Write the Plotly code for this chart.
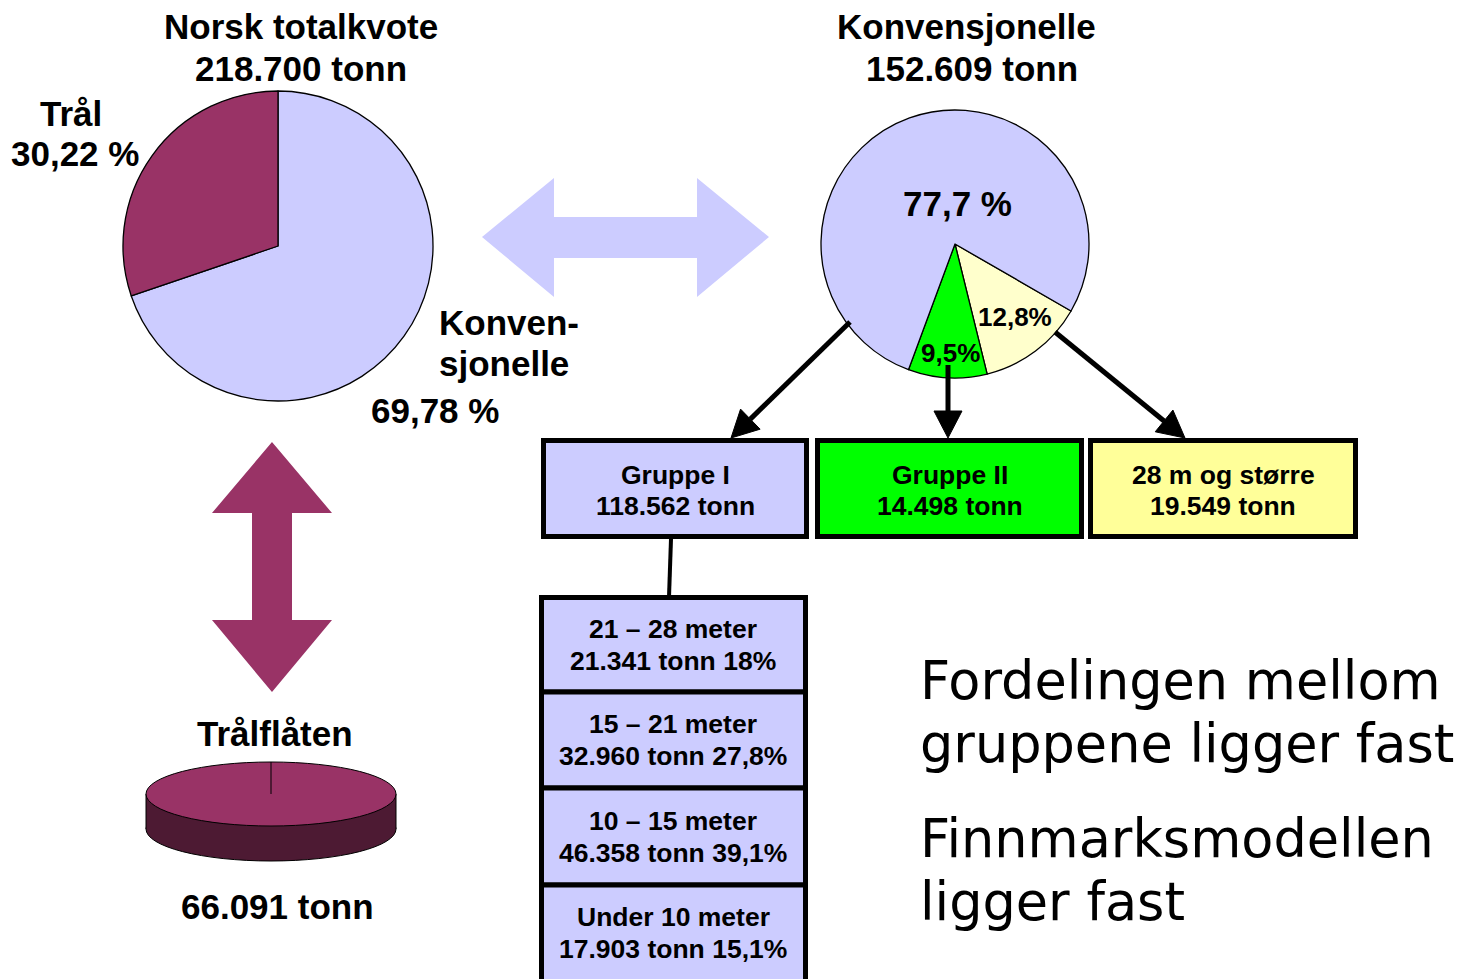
import numpy as np
import plotly.graph_objects as go

W, H = 1467, 979

# ---------------- data ----------------
total_title = "Norsk totalkvote"
total_tonn = 218700

split_labels = ["Konvensjonelle", "Trål"]
split_values = [152609, 66091]
split_pct_text = ["69,78 %", "30,22 %"]
split_colors = ["#CCCCFF", "#993366"]

conv_title = "Konvensjonelle"
conv_labels = ["28 m og større", "Gruppe II", "Gruppe I"]
conv_values = [19549, 14498, 118562]
conv_pct_text = ["12,8%", "9,5%", "77,7 %"]
conv_pie_colors = ["#FFFFCC", "#00FF00", "#CCCCFF"]
conv_box_colors = ["#FFFF99", "#00FF00", "#CCCCFF"]

group1_labels = ["21 – 28 meter", "15 – 21 meter", "10 – 15 meter", "Under 10 meter"]
group1_values = [21341, 32960, 46358, 17903]
group1_pct_text = ["18%", "27,8%", "39,1%", "15,1%"]

trawl_title = "Trålflåten"
trawl_tonn = 66091

notes = [["Fordelingen mellom", "gruppene ligger fast"],
         ["Finnmarksmodellen", "ligger fast"]]

# ---------------- helpers ----------------
FB = "Liberation Sans, Arial, sans-serif"
FR = "DejaVu Sans, Verdana, sans-serif"


def fx(x):
    return x / W


def fy(y):
    return 1 - y / H


def tonn(v):
    return f"{v:,}".replace(",", ".")


annotations = []
shapes = []


def txt(x, y, s, size, bold=True, xanchor="center", family=FB):
    annotations.append(dict(
        x=fx(x), y=fy(y), xref="paper", yref="paper", showarrow=False,
        text=f"<b>{s}</b>" if bold else s, xanchor=xanchor, yanchor="middle",
        font=dict(family=family, size=size, color="black")))


def poly(pts, fill, line_color=None, width=0):
    d = "M " + " L ".join(f"{fx(x):.5f},{fy(y):.5f}" for x, y in pts) + " Z"
    shapes.append(dict(type="path", path=d, xref="paper", yref="paper",
                       fillcolor=fill, line=dict(color=line_color or fill, width=width),
                       layer="above"))


def rect(x0, y0, x1, y1, fill, width=5):
    shapes.append(dict(type="rect", xref="paper", yref="paper",
                       x0=fx(x0), x1=fx(x1), y0=fy(y0), y1=fy(y1),
                       fillcolor=fill, line=dict(color="black", width=width), layer="above"))


def line(x0, y0, x1, y1, width=5, color="black"):
    shapes.append(dict(type="line", xref="paper", yref="paper",
                       x0=fx(x0), x1=fx(x1), y0=fy(y0), y1=fy(y1),
                       line=dict(color=color, width=width), layer="above"))


def arrow(x0, y0, x1, y1, hl=27, hw=28, width=5):
    v = np.array([x1 - x0, y1 - y0], float)
    L = np.hypot(*v)
    u = v / L
    n = np.array([-u[1], u[0]])
    base = np.array([x1, y1]) - u * hl
    line(x0, y0, base[0], base[1], width)
    a = base + n * hw / 2
    b = base - n * hw / 2
    poly([(x1, y1), tuple(a), tuple(b)], "black", "black", 1)


fig = go.Figure()

# ---------------- left pie ----------------
cx1, cy1, r1 = 278, 246, 155
fig.add_trace(go.Pie(
    labels=split_labels, values=split_values, sort=False,
    direction="clockwise", rotation=0,
    marker=dict(colors=split_colors, line=dict(color="black", width=1.3)),
    textinfo="none", showlegend=False, hoverinfo="label+value",
    domain=dict(x=[fx(cx1 - r1), fx(cx1 + r1)], y=[fy(cy1 + r1), fy(cy1 - r1)])))

# ---------------- right pie ----------------
cx2, cy2, r2 = 955, 244, 134
fig.add_trace(go.Pie(
    labels=conv_labels, values=conv_values, sort=False,
    direction="clockwise", rotation=120,
    marker=dict(colors=conv_pie_colors, line=dict(color="black", width=1.3)),
    textinfo="none", showlegend=False, hoverinfo="label+value",
    domain=dict(x=[fx(cx2 - r2), fx(cx2 + r2)], y=[fy(cy2 + r2), fy(cy2 - r2)])))

# titles
txt(301, 27, total_title, 35)
txt(301, 68, f"{tonn(total_tonn)} tonn", 35)
txt(966, 27, conv_title, 35)
txt(972, 68, f"{tonn(sum(conv_values))} tonn", 35)

# left pie labels
txt(71, 114, split_labels[1], 35)
txt(75, 154, split_pct_text[1], 35)
txt(437, 322, "Konven-", 35, xanchor="left")
txt(437, 364, "sjonelle", 35, xanchor="left")
txt(435, 410, split_pct_text[0], 35)

# right pie labels
txt(957, 203, conv_pct_text[2], 35)
txt(951, 353, conv_pct_text[1], 26)
txt(1015, 317, conv_pct_text[0], 26)

# lavender double arrow
poly([(482, 237), (554, 178), (554, 217), (697, 217), (697, 178), (769, 237),
      (697, 297), (697, 258), (554, 258), (554, 297)], "#CCCCFF")

# maroon vertical double arrow
poly([(272, 442), (332, 513), (292, 513), (292, 620), (332, 620), (272, 692),
      (212, 620), (252, 620), (252, 513), (212, 513)], "#993366")

# arrows from right pie to boxes
arrow(850, 322, 731, 438)
arrow(948, 365, 948, 438)
arrow(1055, 332, 1185, 438)

# group boxes
boxes = [(543.5, 806.5), (817.5, 1081.5), (1090.5, 1355.5)]
box_order = [2, 1, 0]
for (bx0, bx1), k in zip(boxes, box_order):
    rect(bx0, 440.5, bx1, 536.5, conv_box_colors[k])
    cxb = (bx0 + bx1) / 2
    txt(cxb, 475, conv_labels[k], 26.5)
    txt(cxb, 506, f"{tonn(conv_values[k])} tonn", 26.5)

# connector from Gruppe I to sub-boxes
line(671, 539, 669, 597, width=4)

# group I sub boxes
edges = [597.5, 692, 788, 885, 995]
for i, (lab, v, p) in enumerate(zip(group1_labels, group1_values, group1_pct_text)):
    rect(541.5, edges[i], 805.5, edges[i + 1], "#CCCCFF")
    yc = (edges[i] + min(edges[i + 1], 980)) / 2 if i < 3 else 933
    txt(673, yc - 16, lab, 26.5)
    txt(673, yc + 16, f"{tonn(v)} tonn {p}", 26.5)

# 3D single-slice pie for the trawl fleet
ex0, ex1 = 146, 396
ty0, ty1 = 762, 826
depth = 35
shapes.append(dict(type="circle", xref="paper", yref="paper",
                   x0=fx(ex0), x1=fx(ex1), y0=fy(ty0 + depth), y1=fy(ty1 + depth),
                   fillcolor="#4D1A33", line=dict(color="black", width=1), layer="above"))
shapes.append(dict(type="rect", xref="paper", yref="paper",
                   x0=fx(ex0), x1=fx(ex1), y0=fy((ty0 + ty1) / 2), y1=fy((ty0 + ty1) / 2 + depth),
                   fillcolor="#4D1A33", line=dict(width=0), layer="above"))
line(ex0, (ty0 + ty1) / 2, ex0, (ty0 + ty1) / 2 + depth, width=1)
line(ex1, (ty0 + ty1) / 2, ex1, (ty0 + ty1) / 2 + depth, width=1)
shapes.append(dict(type="circle", xref="paper", yref="paper",
                   x0=fx(ex0), x1=fx(ex1), y0=fy(ty0), y1=fy(ty1),
                   fillcolor="#993366", line=dict(color="black", width=1), layer="above"))
line((ex0 + ex1) / 2, ty0, (ex0 + ex1) / 2, (ty0 + ty1) / 2, width=1)

txt(275, 733, trawl_title, 35)
txt(277, 906, f"{tonn(trawl_tonn)} tonn", 35)

# notes
note_y = [[680, 743], [838, 901]]
for blk, ys in zip(notes, note_y):
    for s, y in zip(blk, ys):
        txt(918, y, s, 52.5, bold=False, xanchor="left", family=FR)

fig.update_layout(
    width=W, height=H, margin=dict(l=0, r=0, t=0, b=0),
    paper_bgcolor="white", plot_bgcolor="white",
    shapes=shapes, annotations=annotations, showlegend=False)

fig.write_html("out.html", config={"displayModeBar": False},
               post_script="document.body.style.margin='0';document.body.style.overflow='hidden';")
